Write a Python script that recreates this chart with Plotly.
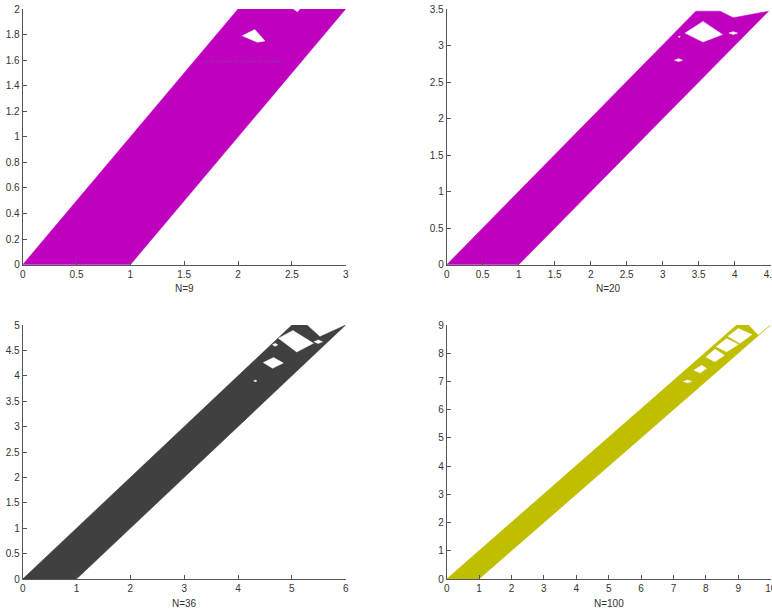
# -*- coding:utf-8 -*-
import plotly.graph_objects as go

# outer outline of each filled region (x, y vertices)
n9_x = [0, 1, 3, 2.58, 2.55, 2.51, 2, 0]
n9_y = [0, 0, 2, 2, 1.975, 2, 2, 0]
n9_holes = [
    ([2.04, 2.155, 2.25, 2.18], [1.79, 1.84, 1.75, 1.74]),
]
n9_dots_x = [1.69, 2.43]
n9_dots_y = [1.59, 1.59]

n20_x = [0, 1, 4.47, 3.98, 3.80, 3.46, 0]
n20_y = [0, 0, 3.47, 3.38, 3.47, 3.47, 0]
n20_holes = [
    ([3.31, 3.56, 3.83, 3.56], [3.17, 3.33, 3.15, 3.05]),
    ([3.92, 3.98, 4.04, 3.98], [3.17, 3.19, 3.17, 3.15]),
    ([3.165, 3.22, 3.275, 3.22], [2.80, 2.82, 2.80, 2.78]),
    ([3.215, 3.23, 3.245, 3.23], [3.12, 3.13, 3.12, 3.11]),
]

n36_x = [0, 1, 6, 5.52, 5.28, 5.0, 0]
n36_y = [0, 0, 5, 4.77, 5.0, 5.0, 0]
n36_holes = [
    ([4.75, 5.02, 5.40, 5.09], [4.74, 4.89, 4.64, 4.47]),
    ([4.47, 4.66, 4.84, 4.64], [4.26, 4.36, 4.25, 4.15]),
    ([5.41, 5.49, 5.57, 5.49], [4.67, 4.705, 4.67, 4.635]),
    ([4.64, 4.69, 4.74, 4.69], [4.61, 4.64, 4.61, 4.58]),
    ([4.29, 4.32, 4.35, 4.32], [3.90, 3.915, 3.90, 3.885]),
]

n100_x = [0, 1, 10, 9.62, 9.31, 8.95, 0]
n100_y = [0, 0, 9, 8.64, 9.0, 9.0, 0]
n100_holes = [
    ([8.68, 9.0, 9.42, 9.05], [8.60, 8.88, 8.66, 8.35]),
    ([8.32, 8.64, 9.0, 8.64], [8.23, 8.52, 8.31, 8.05]),
    ([8.0, 8.28, 8.57, 8.28], [7.87, 8.14, 7.93, 7.70]),
    ([7.63, 7.87, 8.02, 7.82], [7.40, 7.57, 7.46, 7.30]),
    ([7.30, 7.43, 7.56, 7.43], [7.0, 7.05, 7.0, 6.95]),
]

titles = ['N=9', 'N=20', 'N=36', 'N=100']
colors = ['#bf00bf', '#bf00bf', '#404040', '#bfbf00']
x_ranges = [[0, 3], [0, 4.5], [0, 6], [0, 10]]
y_ranges = [[0, 2], [0, 3.5], [0, 5], [0, 9]]
x_dticks = [0.5, 0.5, 1, 1]
y_dticks = [0.2, 0.5, 0.5, 1]

W, H = 772, 610
x_doms = [[22.7 / W, 345.7 / W], [446.7 / W, 770.7 / W]]
y_doms = [[1 - 264.7 / H, 1 - 9 / H], [1 - 579 / H, 1 - 325 / H]]

fig = go.Figure()

regions = [(n9_x, n9_y, n9_holes), (n20_x, n20_y, n20_holes),
           (n36_x, n36_y, n36_holes), (n100_x, n100_y, n100_holes)]

for i, (ox, oy, holes) in enumerate(regions):
    ax = '' if i == 0 else str(i + 1)
    fig.add_trace(go.Scatter(x=ox, y=oy, mode='lines', fill='toself',
                             fillcolor=colors[i], line=dict(width=0.5, color=colors[i]),
                             xaxis='x' + ax, yaxis='y' + ax, hoverinfo='skip'))
    for hx, hy in holes:
        fig.add_trace(go.Scatter(x=hx + [hx[0]], y=hy + [hy[0]], mode='lines', fill='toself',
                                 fillcolor='white', line=dict(width=0.5, color='white'),
                                 xaxis='x' + ax, yaxis='y' + ax, hoverinfo='skip'))

fig.add_trace(go.Scatter(x=n9_dots_x, y=n9_dots_y, mode='lines',
                         line=dict(width=1, color='#4a6aa8', dash='dot'),
                         opacity=0.7, xaxis='x', yaxis='y', hoverinfo='skip'))

axis_style = dict(showline=True, linecolor='#555555', linewidth=1, ticks='inside',
                  ticklen=4, tickcolor='#555555', showgrid=False, zeroline=False,
                  mirror=False, tickfont=dict(family='Liberation Sans', size=10, color='#333333'),
                  automargin=False, fixedrange=True, ticklabeloverflow='allow')

layout = dict(width=W, height=H, margin=dict(l=0, r=0, t=0, b=0),
              paper_bgcolor='white', plot_bgcolor='white', showlegend=False)
annotations = []
for i in range(4):
    ax = '' if i == 0 else str(i + 1)
    r, c = divmod(i, 2)
    layout['xaxis' + ax] = dict(axis_style, domain=x_doms[c], range=x_ranges[i],
                                tick0=0, dtick=x_dticks[i], anchor='y' + ax)
    layout['yaxis' + ax] = dict(axis_style, domain=y_doms[r], range=y_ranges[i],
                                tick0=0, dtick=y_dticks[i], anchor='x' + ax)
    annotations.append(dict(text=titles[i], xref='paper', yref='paper',
                            x=sum(x_doms[c]) / 2, y=y_doms[r][0] - 24 / H,
                            xanchor='center', yanchor='middle', showarrow=False,
                            font=dict(family='Liberation Sans', size=10, color='#333333')))
layout['annotations'] = annotations

fig.update_layout(**layout)
# drop the default page margin so the figure sits at the window's corner
fig.write_html("out.html", config={'displayModeBar': False},
               post_script="document.body.style.margin='0px';")
